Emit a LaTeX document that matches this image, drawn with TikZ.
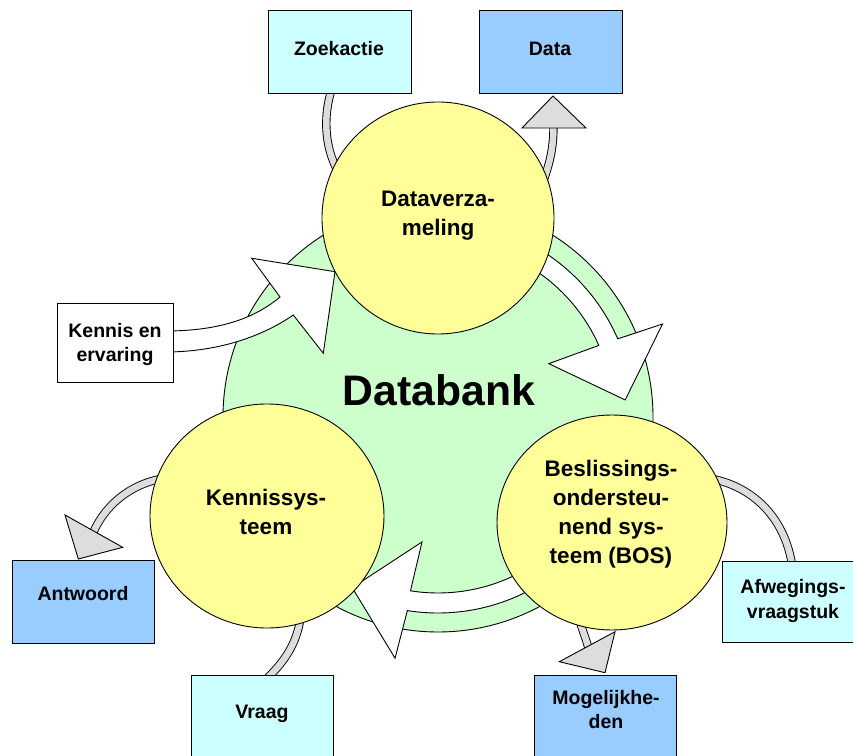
\documentclass[tikz,border=0pt]{standalone}
\usepackage{fontspec}
\setmainfont{Liberation Sans}
\usetikzlibrary{calc,shapes.geometric}

\pgfdeclarelayer{back}
\pgfdeclarelayer{bands}
\pgfsetlayers{back,bands,main}

\definecolor{bankgreen}{HTML}{CCFFCC}
\definecolor{discyellow}{HTML}{FFFF99}
\definecolor{inbox}{HTML}{CCFFFF}
\definecolor{outbox}{HTML}{99CCFF}
\definecolor{bandgray}{HTML}{DDDDDD}

\tikzset{
  outline/.style={draw=black, line width=0.9pt},
  disc/.style={outline, ellipse, fill=discyellow, inner sep=0pt},
  box/.style={outline, rectangle, inner sep=0pt, minimum width=143pt, minimum height=83pt},
  disctext/.style={anchor=north, inner sep=0pt, align=center,
    font=\fontsize{22.5}{29}\selectfont\bfseries},
  boxtext/.style={anchor=north, inner sep=0pt, align=center,
    font=\fontsize{19.5}{24.5}\selectfont\bfseries},
  whiteband/.style={outline, fill=white, line join=miter},
  grayband/.style={draw=black, line width=0.9pt, double=bandgray, double distance=6.5pt},
  grayhead/.style={outline, fill=bandgray, line join=miter},
}

\begin{document}
\begin{tikzpicture}[x=1pt, y=1pt]
\useasboundingbox (0,0) rectangle (853,755);
\clip (0,0) rectangle (853,755);

% the database disc behind everything
\begin{pgfonlayer}{back}
  \node[outline, circle, fill=bankgreen, minimum size=430pt, inner sep=0pt] (bank) at (438,338) {};
\end{pgfonlayer}
\node[font=\fontsize{42.7}{50}\selectfont\bfseries, anchor=base, inner sep=0pt] (banklabel) at (439,349) {Databank};

% the three systems
\node[disc, minimum width=232pt, minimum height=232pt] (dvz) at (438,537) {};
\node[disc, minimum width=234pt, minimum height=224pt] (ken) at (267,239) {};
\node[disc, minimum width=230pt, minimum height=215pt] (bos) at (612,232.5) {};

\node[disctext] (dvzT) at (438,568.6) {\strut Dataverza-\\\strut meling};
\node[disctext] (kenT) at (266,270.3) {\strut Kennissys-\\\strut teem};
\node[disctext] (bosT) at (611,299.3) {\strut Beslissings-\\\strut ondersteu-\\\strut nend sys-\\\strut teem (BOS)};

% inputs and outputs
\node[box, fill=inbox] (zoek) at (339.5,703.5) {};
\node[box, fill=outbox] (data) at (550.5,703.5) {};
\node[box, fill=white, minimum width=116pt, minimum height=79pt] (kenerv) at (115,412.5) {};
\node[box, fill=outbox, minimum width=142pt] (antw) at (83,153.5) {};
\node[box, fill=inbox, minimum width=142pt] (vraag) at (262,38.5) {};
\node[box, fill=outbox, minimum width=142pt] (mog) at (605,38.5) {};
\node[box, fill=inbox, minimum height=81pt] (afw) at (793.5,153.5) {};

\node[boxtext] (zoekT) at (339,717.15) {\strut Zoekactie};
\node[boxtext] (dataT) at (550,717.15) {\strut Data};
\node[boxtext] (kenervT) at (115,434.9) {\strut Kennis en\\\strut ervaring};
\node[boxtext] (antwT) at (83,172.15) {\strut Antwoord};
\node[boxtext] (vraagT) at (262,53.85) {\strut Vraag};
\node[boxtext] (mogT) at (606,68.15) {\strut Mogelijkhe-\\\strut den};
\node[boxtext] (afwT) at (793,178.85) {\strut Afwegings-\\\strut vraagstuk};

\begin{pgfonlayer}{bands}
  % Dataverzameling -> BOS, following the database disc
  \draw[whiteband] ($(bank.center)+(80:196pt)$) arc[start angle=80, end angle=23.5, radius=196pt]
    -- ($(bank.center)+(22.5:243pt)$) -- ($(bank.center)+(5.2:188pt)$)
    -- ($(bank.center)+(25.7:123pt)$) -- ($(bank.center)+(24:176pt)$)
    arc[start angle=24, end angle=80, radius=176pt] -- cycle;
  % BOS -> Kennissysteem
  \draw[whiteband] ($(bank.center)+(318:196pt)$) arc[start angle=318, end angle=261, radius=196pt]
    -- ($(bank.center)+(259.9:245pt)$) -- ($(bank.center)+(243.3:191pt)$)
    -- ($(bank.center)+(262.7:126pt)$) -- ($(bank.center)+(261:176pt)$)
    arc[start angle=261, end angle=318, radius=176pt] -- cycle;
  % Kennis en ervaring -> Dataverzameling
  \draw[whiteband] ($(kenerv.east)+(-8,11.5)$) .. controls (220,424) and (255,437) .. (280,458)
    -- (251.7,496.7) -- (335,483.3) -- (323.3,401.7) -- (293.3,440)
    .. controls (260,417) and (215,403) .. ($(kenerv.east)+(-8,-9.5)$) -- cycle;

  % Zoekactie -> Dataverzameling
  \draw[grayband] ($(zoek.south)+(-6.5,8)$) .. controls (324,645) and (322,610) .. (340,580);
  % Dataverzameling -> Data
  \draw[grayband] (543,573) .. controls (549,590) and (553.5,605) .. (553.5,629);
  \draw[grayhead] (522,627) -- (553,659) -- (586,627) -- cycle;
  % Kennissysteem -> Antwoord
  \draw[grayband] (160,276) .. controls (130,270) and (105,250) .. (93,222);
  \draw[grayhead] (65,240) -- (78.3,196) -- (122.7,207.7) -- cycle;
  % Vraag -> Kennissysteem
  \draw[grayband] ($(vraag.north)+(2,-7)$) .. controls (284,93) and (297,110) .. (301,140);
  % BOS -> Mogelijkheden
  \draw[grayband] (575,150) .. controls (580,130) and (585,120) .. (589,105);
  \draw[grayhead] (559.3,93.3) -- (605,82.3) -- (615,123.3) -- cycle;
  % Afwegingsvraagstuk -> BOS
  \draw[grayband] (708,277) .. controls (750,270) and (785,240) .. ($(afw.north)+(-1,-7)$);
\end{pgfonlayer}
\end{tikzpicture}
\end{document}
